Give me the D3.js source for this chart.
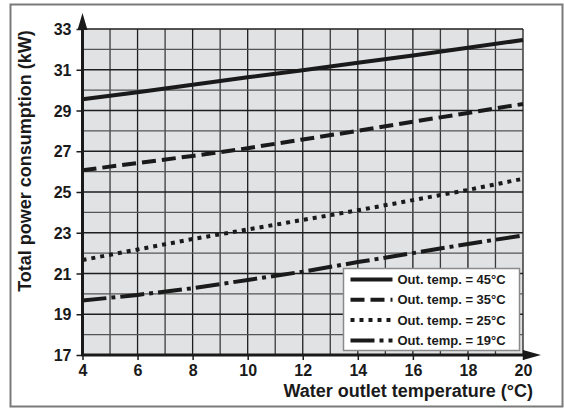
<!DOCTYPE html>
<html>
<head>
<meta charset="utf-8">
<script src="https://cdn.jsdelivr.net/npm/d3@7"></script>
<style>
  body { margin: 0; background: #fff; }
</style>
</head>
<body>
<svg id="chart" width="564" height="409"></svg>
<script>
// data
const waterTemps = [4, 6, 8, 10, 12, 14, 16, 18, 20];
const power45 = [29.55, 29.9, 30.26, 30.63, 30.98, 31.34, 31.7, 32.08, 32.46];
const power35 = [26.07, 26.42, 26.77, 27.15, 27.58, 28.0, 28.45, 28.88, 29.32];
const power25 = [21.66, 22.18, 22.69, 23.16, 23.63, 24.1, 24.6, 25.1, 25.65];
const power19 = [19.67, 19.95, 20.28, 20.68, 21.09, 21.56, 22.0, 22.45, 22.87];
const seriesNames = ["Out. temp. = 45°C", "Out. temp. = 35°C", "Out. temp. = 25°C", "Out. temp. = 19°C"];
const xTicks = [4, 6, 8, 10, 12, 14, 16, 18, 20];
const yTicks = [17, 19, 21, 23, 25, 27, 29, 31, 33];

const series = [power45, power35, power25, power19];
const dashes = [null, "14,6", "4,5", "24,5,4,5"];
const FONT = "'Liberation Sans', Arial, Helvetica, sans-serif";

const svg = d3.select("#chart");

// outer frame
svg.append("rect")
  .attr("x", 10.5).attr("y", 4.5)
  .attr("width", 552).attr("height", 402)
  .attr("fill", "none").attr("stroke", "#7a7a7a").attr("stroke-width", 2);

const x = d3.scaleLinear().domain([4, 20]).range([82.5, 523]);
const y = d3.scaleLinear().domain([17, 33]).range([355, 29]);

// plot background
svg.append("rect")
  .attr("x", x(4)).attr("y", y(33))
  .attr("width", x(20) - x(4)).attr("height", y(17) - y(33))
  .attr("fill", "#e1e2e4");

// grid
const grid = svg.append("g");
grid.selectAll(".gx")
  .data(d3.range(4, 21))
  .join("line")
  .attr("x1", d => x(d)).attr("x2", d => x(d))
  .attr("y1", y(17)).attr("y2", y(33))
  .attr("stroke", d => d % 2 === 0 ? "#1e1e1e" : "#3a3a3a")
  .attr("stroke-width", 1.3);
grid.selectAll(".gy")
  .data(d3.range(17, 34))
  .join("line")
  .attr("x1", x(4)).attr("x2", x(20))
  .attr("y1", d => y(d)).attr("y2", d => y(d))
  .attr("stroke", d => d % 2 === 1 ? "#1e1e1e" : "#555")
  .attr("stroke-width", 1.3);

// series lines
const line = d3.line()
  .x((d, i) => x(waterTemps[i]))
  .y(d => y(d));

svg.selectAll(".series")
  .data(series)
  .join("path")
  .attr("d", d => line(d))
  .attr("fill", "none")
  .attr("stroke", "#1a1a1a")
  .attr("stroke-width", 4)
  .attr("stroke-dasharray", (d, i) => dashes[i]);

// axes
const axisLeft = d3.axisLeft(y).tickValues(yTicks).tickSize(6).tickPadding(5);
const gy = svg.append("g").attr("transform", `translate(${x(4)},0)`).call(axisLeft);
gy.select(".domain").remove();
gy.selectAll(".tick line").attr("stroke", "#1a1a1a").attr("stroke-width", 1.5);
gy.selectAll(".tick text")
  .style("font-family", FONT).style("font-weight", "bold").style("font-size", "16px")
  .attr("fill", "#1a1a1a").attr("dy", "0.35em");

const axisBottom = d3.axisBottom(x).tickValues(xTicks).tickSize(5).tickPadding(5);
const gx = svg.append("g").attr("transform", `translate(0,${y(17)})`).call(axisBottom);
gx.select(".domain").remove();
gx.selectAll(".tick line").attr("stroke", "#1a1a1a").attr("stroke-width", 1.5);
gx.selectAll(".tick text")
  .style("font-family", FONT).style("font-weight", "bold").style("font-size", "16px")
  .attr("fill", "#1a1a1a");

// axis lines with arrows
svg.append("line")
  .attr("x1", x(4)).attr("x2", x(4))
  .attr("y1", y(17) + 1).attr("y2", 22)
  .attr("stroke", "#1a1a1a").attr("stroke-width", 3);
svg.append("path")
  .attr("d", `M${x(4)},13 L${x(4) - 5},30 L${x(4) + 5},30 Z`)
  .attr("fill", "#1a1a1a");
svg.append("line")
  .attr("x1", x(4) - 1).attr("x2", 532)
  .attr("y1", y(17)).attr("y2", y(17))
  .attr("stroke", "#1a1a1a").attr("stroke-width", 3);
svg.append("path")
  .attr("d", `M541,${y(17)} L523,${y(17) - 5} L523,${y(17) + 5} Z`)
  .attr("fill", "#1a1a1a");

// axis titles
svg.append("text")
  .attr("x", 533).attr("y", 397)
  .attr("text-anchor", "end")
  .style("font-family", FONT).style("font-weight", "bold").style("font-size", "18px")
  .attr("fill", "#1a1a1a")
  .text("Water outlet temperature (°C)");
svg.append("text")
  .attr("transform", "translate(31,161) rotate(-90)")
  .attr("text-anchor", "middle")
  .style("font-family", FONT).style("font-weight", "bold").style("font-size", "18px")
  .attr("fill", "#1a1a1a")
  .text("Total power consumption (kW)");

// legend
const legend = svg.append("g").attr("transform", "translate(343.5,268.5)");
legend.append("rect")
  .attr("width", 176).attr("height", 82)
  .attr("fill", "#fff").attr("stroke", "#8a8a8a").attr("stroke-width", 1.5);
const rows = legend.selectAll(".row")
  .data(seriesNames)
  .join("g")
  .attr("transform", (d, i) => `translate(0,${11 + i * 20.3})`);
rows.append("line")
  .attr("x1", 7).attr("x2", 49)
  .attr("stroke", "#1a1a1a").attr("stroke-width", 4)
  .attr("stroke-dasharray", (d, i) => dashes[i]);
rows.append("text")
  .attr("x", 54).attr("dy", "0.36em")
  .style("font-family", FONT).style("font-weight", "bold").style("font-size", "13px")
  .attr("fill", "#1a1a1a")
  .text(d => d);
</script>
</body>
</html>
